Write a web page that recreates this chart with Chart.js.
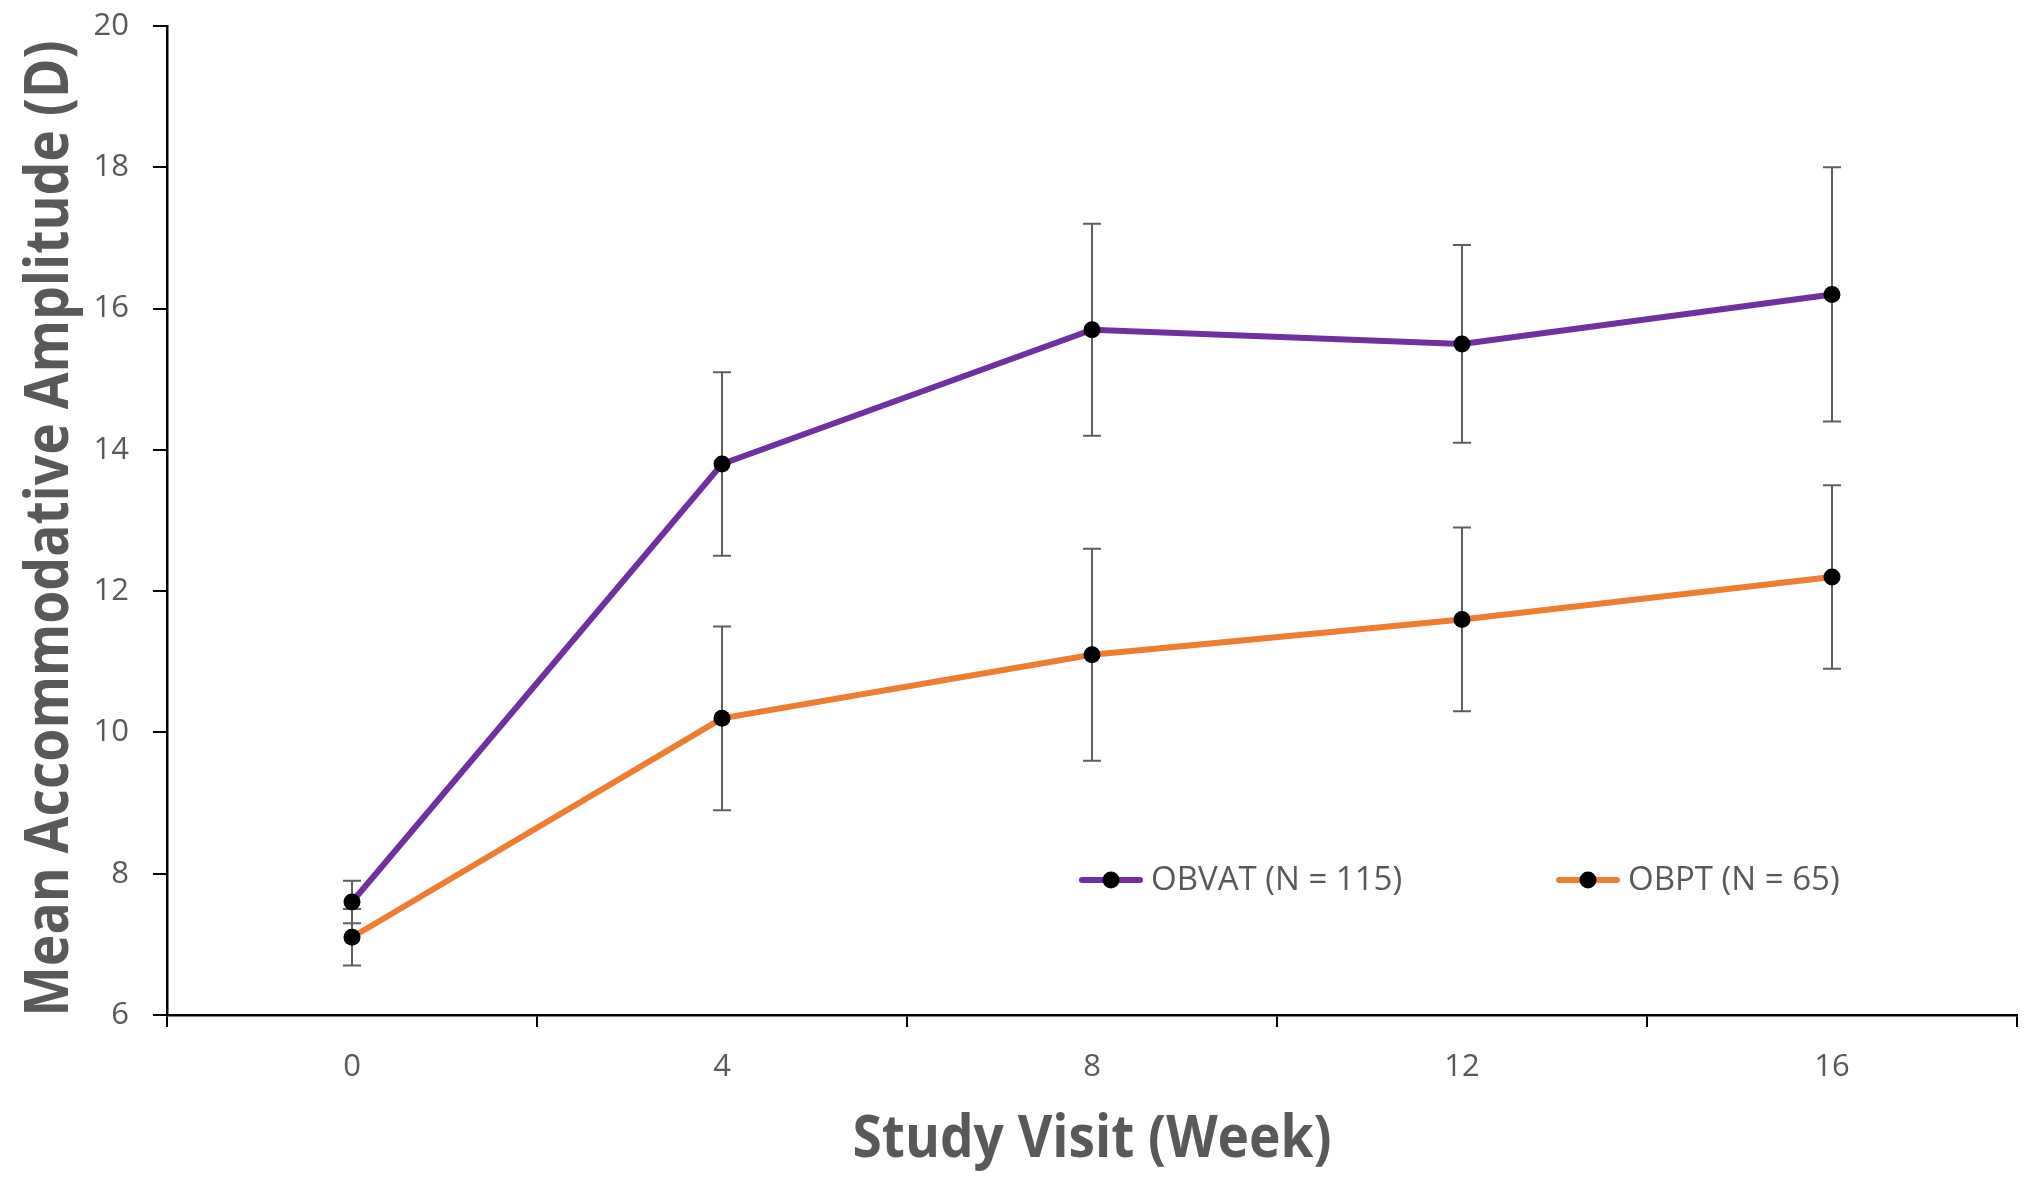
<!DOCTYPE html>
<html>
<head>
<meta charset="utf-8">
<title>Mean Accommodative Amplitude</title>
<script src="https://cdn.jsdelivr.net/npm/chart.js@4/dist/chart.umd.min.js"></script>
<style>
    html, body { margin: 0; padding: 0; background: #fff; }
    #wrap { width: 2040px; height: 1185px; position: relative; }
</style>
</head>
<body>
<div id="wrap"><canvas id="chart-amplitude"></canvas></div>
<script>
const weeks = ['0', '4', '8', '12', '16'];
const obvatMean = [7.6, 13.8, 15.7, 15.5, 16.2];
const obvatErr = [0.3, 1.3, 1.5, 1.4, 1.8];
const obptMean = [7.1, 10.2, 11.1, 11.6, 12.2];
const obptErr = [0.4, 1.3, 1.5, 1.3, 1.3];
const seriesNames = ['OBVAT (N = 115)', 'OBPT (N = 65)'];
const xTitle = 'Study Visit (Week)';
const yTitle = 'Mean Accommodative Amplitude (D)';

const textGray = '#595959';
const fontFamily = '"Open Sans", "Noto Sans", sans-serif';
const tickFont = { family: fontFamily, size: 31 };

// error bars, drawn under the lines and markers
const errorBars = {
    id: 'errorBars',
    beforeDatasetsDraw: function (chart) {
        const ctx = chart.ctx;
        const yScale = chart.scales.y;
        ctx.save();
        ctx.strokeStyle = '#5f5f5f';
        ctx.lineWidth = 2;
        chart.data.datasets.forEach(function (ds, i) {
            const meta = chart.getDatasetMeta(i);
            meta.data.forEach(function (pt, j) {
                const top = yScale.getPixelForValue(ds.data[j] + ds.errors[j]);
                const bottom = yScale.getPixelForValue(ds.data[j] - ds.errors[j]);
                const cap = 9;
                ctx.beginPath();
                ctx.moveTo(pt.x, top);
                ctx.lineTo(pt.x, bottom);
                ctx.moveTo(pt.x - cap, top);
                ctx.lineTo(pt.x + cap, top);
                ctx.moveTo(pt.x - cap, bottom);
                ctx.lineTo(pt.x + cap, bottom);
                ctx.stroke();
            });
        });
        ctx.restore();
    }
};

// legend inside the plot, line sample with a black dot
const innerLegend = {
    id: 'innerLegend',
    afterDraw: function (chart) {
        const ctx = chart.ctx;
        const startX = [1082, 1559];
        const y = 880;
        ctx.save();
        chart.data.datasets.forEach(function (ds, i) {
            const x = startX[i];
            ctx.strokeStyle = ds.borderColor;
            ctx.lineWidth = 6;
            ctx.lineCap = 'round';
            ctx.beginPath();
            ctx.moveTo(x, y);
            ctx.lineTo(x + 58, y);
            ctx.stroke();
            ctx.fillStyle = '#000';
            ctx.beginPath();
            ctx.arc(x + 29, y, 8.5, 0, Math.PI * 2);
            ctx.fill();
            ctx.font = '33px ' + fontFamily;
            ctx.fillStyle = textGray;
            ctx.textBaseline = 'middle';
            ctx.textAlign = 'left';
            ctx.fillText(ds.label, x + 69, y + 1, 258);
        });
        ctx.restore();
    }
};

// axis titles, condensed bold like the original
const axisTitles = {
    id: 'axisTitles',
    afterDraw: function (chart) {
        const ctx = chart.ctx;
        const area = chart.chartArea;
        ctx.save();
        ctx.fillStyle = textGray;
        ctx.textAlign = 'center';
        ctx.textBaseline = 'alphabetic';

        ctx.font = 'bold 59px ' + fontFamily;
        ctx.fillText(xTitle, (area.left + area.right) / 2, 1157, 479);

        ctx.translate(68, (area.top + area.bottom) / 2 + 8);
        ctx.rotate(-Math.PI / 2);
        ctx.font = 'bold 60px ' + fontFamily;
        ctx.fillText(yTitle, 0, 0, 976);
        ctx.restore();
    }
};

const ctx = document.getElementById('chart-amplitude').getContext('2d');
new Chart(ctx, {
    type: 'line',
    data: {
        labels: weeks,
        datasets: [
            {
                label: seriesNames[0],
                data: obvatMean,
                errors: obvatErr,
                borderColor: '#7030a0',
                borderWidth: 6,
                pointRadius: 8.5,
                pointBackgroundColor: '#000',
                pointBorderColor: '#000',
                pointBorderWidth: 0,
                tension: 0
            },
            {
                label: seriesNames[1],
                data: obptMean,
                errors: obptErr,
                borderColor: '#ed7d31',
                borderWidth: 6,
                pointRadius: 8.5,
                pointBackgroundColor: '#000',
                pointBorderColor: '#000',
                pointBorderWidth: 0,
                tension: 0
            }
        ]
    },
    options: {
        responsive: true,
        maintainAspectRatio: false,
        animation: false,
        layout: { padding: { top: 26, right: 23, left: 0, bottom: 0 } },
        plugins: {
            legend: { display: false },
            tooltip: { enabled: false }
        },
        scales: {
            x: {
                type: 'category',
                offset: true,
                grid: {
                    offset: true,
                    drawOnChartArea: false,
                    drawTicks: true,
                    tickLength: 12,
                    color: '#000',
                    lineWidth: 2
                },
                border: { display: true, color: '#000', width: 2.5 },
                ticks: { color: textGray, font: tickFont, padding: 22, maxRotation: 0 },
                afterFit: function (scale) {
                    scale.height = 170;
                    scale.paddingLeft = 0;
                    scale.paddingRight = 0;
                }
            },
            y: {
                min: 6,
                max: 20,
                ticks: { stepSize: 2, color: textGray, font: tickFont, padding: 24 },
                grid: {
                    drawOnChartArea: false,
                    drawTicks: true,
                    tickLength: 14,
                    color: '#000',
                    lineWidth: 2
                },
                border: { display: true, color: '#000', width: 2.5 },
                afterFit: function (scale) {
                    scale.width = 167;
                    scale.paddingTop = 0;
                    scale.paddingBottom = 0;
                }
            }
        }
    },
    plugins: [errorBars, innerLegend, axisTitles]
});
</script>
</body>
</html>
